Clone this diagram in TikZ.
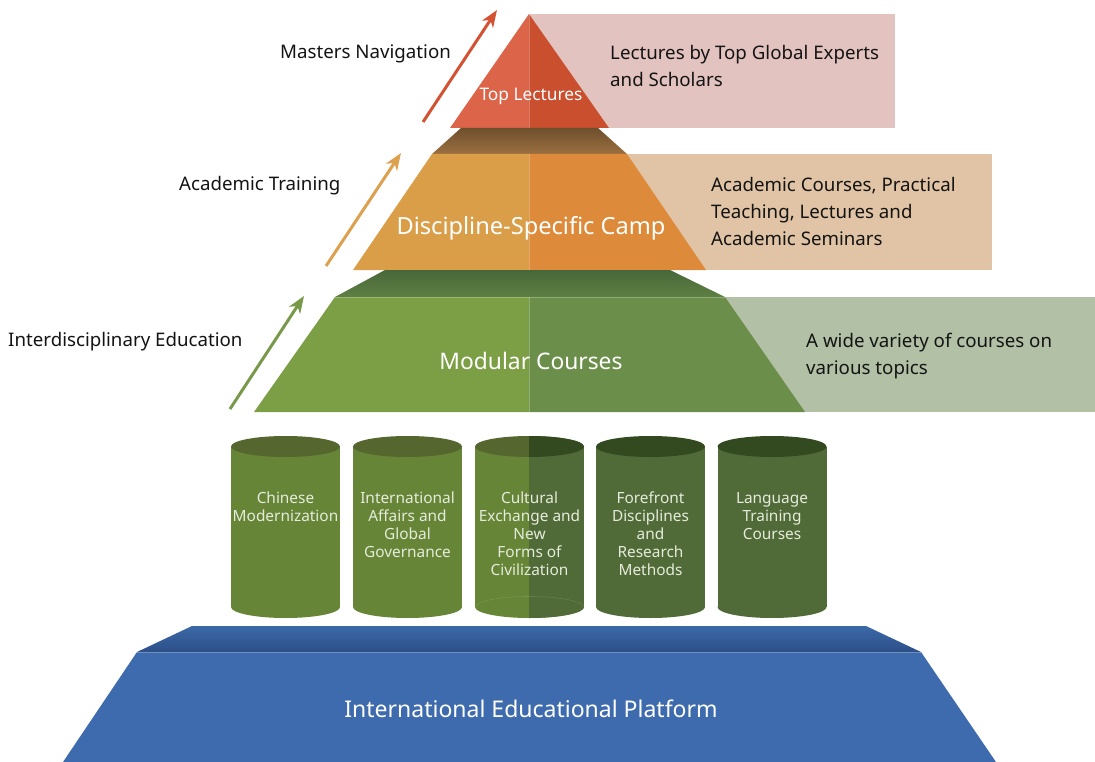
\documentclass[tikz,border=0pt]{standalone}
\usepackage{fontspec}
\setmainfont{Noto Sans}
\usetikzlibrary{arrows.meta}
\definecolor{redL}{HTML}{DB6449}
\definecolor{redR}{HTML}{C94F2E}
\definecolor{pinkbg}{HTML}{E3C3BF}
\definecolor{brownT}{HTML}{6E4F2E}
\definecolor{brownB}{HTML}{9C7040}
\definecolor{orL}{HTML}{DA9E49}
\definecolor{orR}{HTML}{DD8B3A}
\definecolor{beigebg}{HTML}{E0C4A5}
\definecolor{dgT}{HTML}{48673A}
\definecolor{dgB}{HTML}{5E8042}
\definecolor{gnL}{HTML}{7C9E45}
\definecolor{gnR}{HTML}{6C8E4B}
\definecolor{sagebg}{HTML}{B2C0A6}
\definecolor{cgA}{HTML}{668537}
\definecolor{ctA}{HTML}{55672F}
\definecolor{cgB}{HTML}{506B37}
\definecolor{ctB}{HTML}{334A20}
\definecolor{cylText}{HTML}{E6EBDC}
\definecolor{blT}{HTML}{3B69A8}
\definecolor{blB}{HTML}{2D4F88}
\definecolor{blF}{HTML}{3E6BAD}
\definecolor{arRed}{HTML}{D35233}
\definecolor{arOr}{HTML}{DCA04E}
\definecolor{arGn}{HTML}{79994A}
\begin{document}
\begin{tikzpicture}[x=1pt,y=-1pt,
  lbl/.style={font=\fontsize{18.7}{27}\selectfont, text=black!92, inner sep=0pt},
  desc/.style={lbl, align=left, anchor=north west},
  shapetxt/.style={text=white, inner sep=0pt, anchor=base},
  cyltxt/.style={font=\fontsize{15.4}{18}\selectfont, text=cylText, align=center, anchor=north, inner sep=0pt},
  uparrow/.style={line width=3pt, -{Stealth[length=17pt,width=13pt,inset=5pt]}},
  sep/.style={draw=white, draw opacity=.25, line width=.7pt}
]
\useasboundingbox (0,0) rectangle (1095,762);

% background description bands
\fill[pinkbg] (529,14) rectangle (895,128);
\fill[beigebg] (600,154) rectangle (992,270);
\fill[sagebg] (700,297) rectangle (1095,412);

% top triangle
\fill[redL] (529,14) -- (450,128) -- (529,128) -- cycle;
\fill[redR] (529,14) -- (609,128) -- (529,128) -- cycle;
\draw[sep] (529,14) -- (529,128);

% brown band
\shade[top color=brownT, bottom color=brownB] (461,128) -- (598,128) -- (627,154) -- (432,154) -- cycle;
% orange
\fill[orL] (432,154) -- (529,154) -- (529,270) -- (353,270) -- cycle;
\fill[orR] (529,154) -- (627,154) -- (706,270) -- (529,270) -- cycle;
\draw[sep] (529,154) -- (529,270);

% dark green band
\shade[top color=dgT, bottom color=dgB] (385,270) -- (670,270) -- (725,297) -- (335,297) -- cycle;
% green
\fill[gnL] (335,297) -- (529,297) -- (529,412) -- (254,412) -- cycle;
\fill[gnR] (529,297) -- (725,297) -- (805,412) -- (529,412) -- cycle;
\draw[sep] (529,297) -- (529,412);
\draw[sep] (335,297) -- (725,297);

% cylinders
\foreach \cx/\bc/\tc in {285.5/cgA/ctA, 407.5/cgA/ctA, 529.5/cgA/ctA, 650.5/cgB/ctB, 772/cgB/ctB} {
  \fill[\bc] (\cx-54.5,446.5) rectangle (\cx+54.5,607);
  \fill[\bc] (\cx,607) ellipse[x radius=54.5, y radius=11];
  \fill[\tc] (\cx,446.5) ellipse[x radius=54.5, y radius=10.5];
}
\begin{scope}
  \clip (529,430) rectangle (590,625);
  \fill[cgB] (475,446.5) rectangle (584,607);
  \fill[cgB] (529.5,607) ellipse[x radius=54.5, y radius=11];
  \fill[ctB] (529.5,446.5) ellipse[x radius=54.5, y radius=10.5];
\end{scope}
\begin{scope}
  \clip (470,590) rectangle (590,606.5);
  \draw[white, opacity=.12, line width=.6pt] (529.5,607) ellipse[x radius=54, y radius=10.5];
\end{scope}

% blue platform
\shade[top color=blT, bottom color=blB] (192,626) -- (866,626) -- (921,652) -- (137,652) -- cycle;
\fill[blF] (137,652) -- (921,652) -- (996,762) -- (63,762) -- cycle;
\draw[sep] (137,652) -- (921,652);

% arrows
\coordinate (ra1) at (423,122); \coordinate (ra2) at (497,10);
\coordinate (oa1) at (326,266); \coordinate (oa2) at (401,153);
\coordinate (ga1) at (230,409); \coordinate (ga2) at (304,296);
\draw[uparrow, arRed] (ra1) -- (ra2);
\draw[uparrow, arOr] (oa1) -- (oa2);
\draw[uparrow, arGn] (ga1) -- (ga2);

% left labels
\node[lbl, anchor=base west] (l1) at (280,59) {Masters Navigation};
\node[lbl, anchor=base west] (l2) at (179,191) {Academic Training};
\node[lbl, anchor=base west] (l3) at (8,346) {Interdisciplinary Education};

% right descriptions
\node[desc] (d1) at (610,45) {Lectures by Top Global Experts\\and Scholars};
\node[desc] (d2) at (711,177) {Academic Courses, Practical\\Teaching, Lectures and\\Academic Seminars};
\node[desc] (d3) at (806,333) {A wide variety of courses on\\various topics};

% shape labels
\node[shapetxt, font=\fontsize{17.3}{20}\selectfont] (t1) at (531,101) {Top Lectures};
\node[shapetxt, font=\fontsize{23.6}{26}\selectfont] (t2) at (531,234) {Discipline-Specific Camp};
\node[shapetxt, font=\fontsize{22.8}{26}\selectfont] (t3) at (531,369) {Modular Courses};
\node[shapetxt, font=\fontsize{23}{27}\selectfont] (t4) at (531,717) {International Educational Platform};

% cylinder labels
\node[cyltxt] (c1) at (285.5,492) {Chinese\\Modernization};
\node[cyltxt] (c2) at (407.5,492) {International\\Affairs and\\Global\\Governance};
\node[cyltxt] (c3) at (529.5,492) {Cultural\\Exchange and\\New\\Forms of\\Civilization};
\node[cyltxt] (c4) at (650.5,492) {Forefront\\Disciplines\\and\\Research\\Methods};
\node[cyltxt] (c5) at (772,492) {Language\\Training\\Courses};
\end{tikzpicture}
\end{document}
